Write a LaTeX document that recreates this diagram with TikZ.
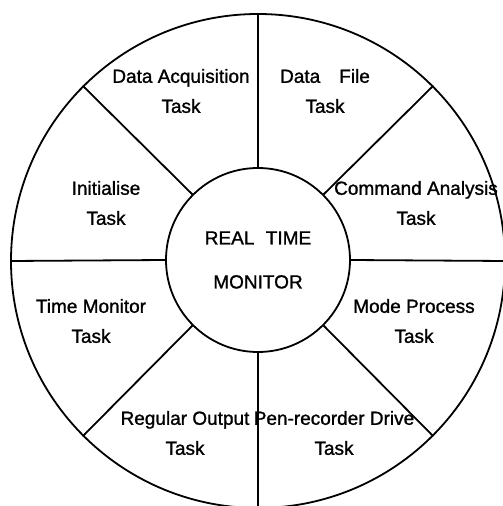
\documentclass[tikz,border=0pt]{standalone}
\usepackage{fontspec}
\setmainfont{Liberation Sans}[RawFeature={embolden=1.2}]
\usetikzlibrary{positioning}
\tikzstyle{ring}=[draw, circle, line width=1.8pt, inner sep=0]
\tikzstyle{spoke}=[line width=1.8pt]
\tikzstyle{task}=[align=center, inner sep=0, font=\fontsize{19}{30}\selectfont]
\begin{document}
\begin{tikzpicture}[x=1pt,y=1pt]
\useasboundingbox (-258,-245) rectangle (245,261);
% the two rings
\node[ring, minimum size=494pt] (outer) at (0,0) {};
\node[ring, task, minimum size=184pt] (rtm) at (0,1) {REAL\hspace{0.6em}TIME\\[14pt]MONITOR};
% eight spokes between the rings
\foreach \a in {0,45,...,315}
  \draw[spoke] (rtm.\a) -- (outer.\a);
% the tasks, one per sector
\node[task] (dacq) at (-77,170) {Data Acquisition\\Task};
\node[task] (dfile) at (67,170) {Data\quad File\\Task};
\node[task] (init) at (-152,58) {Initialise\\Task};
\node[task] (cmd) at (158,58) {Command Analysis\\Task};
\node[task] (tmon) at (-167,-60) {Time Monitor\\Task};
\node[task] (mode) at (156,-60) {Mode Process\\Task};
\node[task] (rout) at (-73,-172) {Regular Output\\Task};
\node[task] (pen) at (76,-172) {Pen-recorder Drive\\Task};
\end{tikzpicture}
\end{document}
